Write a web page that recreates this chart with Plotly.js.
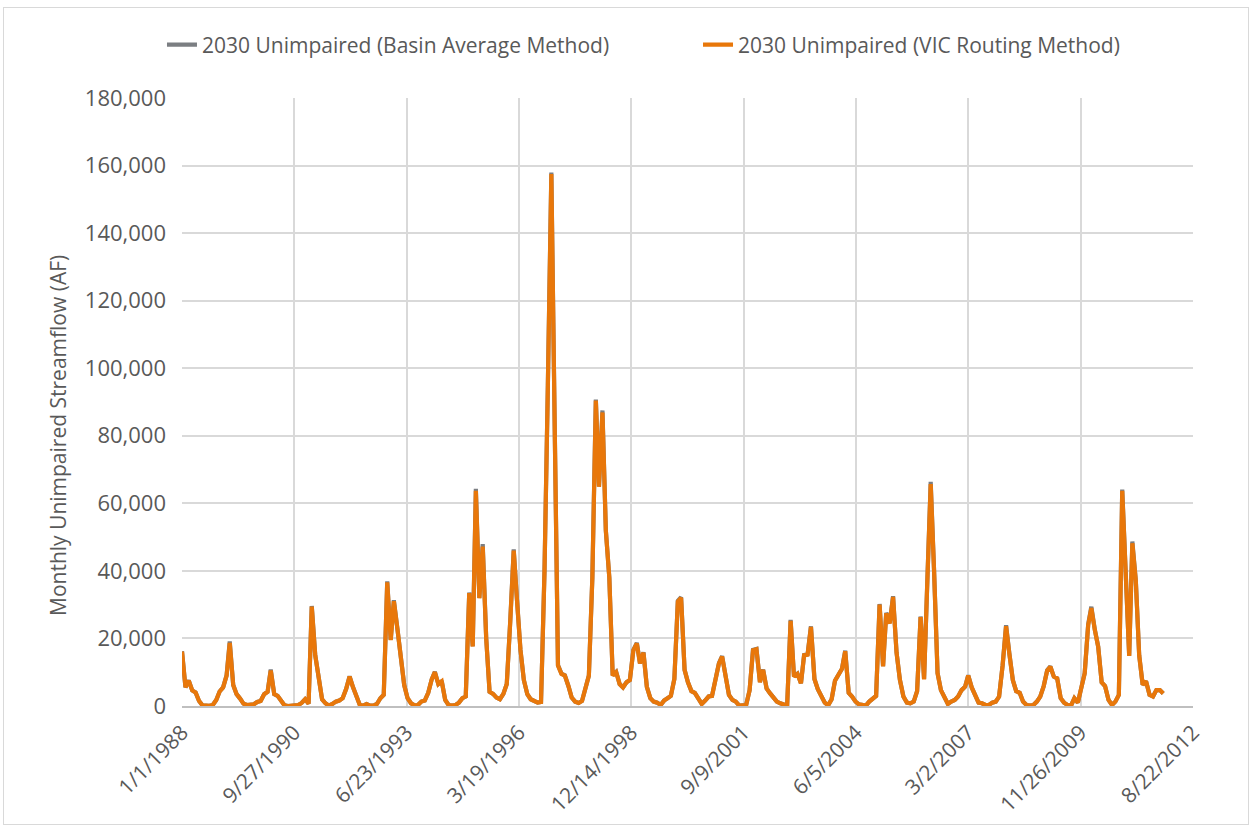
<!DOCTYPE html>
<html>
<head>
<meta charset="utf-8">
<script src="https://cdn.plot.ly/plotly-3.0.1.min.js"></script>
<style>
  html, body { margin: 0; padding: 0; background: #ffffff; }
  #wrap { position: relative; width: 1252px; height: 829px; }
  #chart { position: absolute; left: 0; top: 0; width: 1252px; height: 829px; }
  #frame { position: absolute; left: 3px; top: 7px; width: 1244px; height: 816px; border: 1px solid #d9d9d9; pointer-events: none; }
</style>
</head>
<body>
<div id="wrap"><div id="chart"></div><div id="frame"></div></div>
<script>
// ---- Data (monthly, Jan 1988 - Dec 2011), acre-feet ----
const startYear = 1988;
const endYear = 2011;

// 2030 Unimpaired (VIC Routing Method)
const vicRouting = [
  16100, 5500, 7500, 4600, 4000, 1500, 200, 50, 50, 300, 1800, 4300,        // 1988
  5500, 9000, 18700, 6200, 3500, 2200, 700, 300, 300, 500, 1200, 1500,      // 1989
  3500, 4200, 10500, 3500, 3000, 1500, 200, 0, 0, 50, 300, 900,             // 1990
  2000, 700, 29400, 15000, 9000, 2000, 800, 100, 600, 1300, 1600, 2300,     // 1991
  5000, 8700, 5700, 2600, 400, 100, 600, 100, 100, 600, 2300, 3300,         // 1992
  36600, 19500, 31000, 23000, 14600, 6200, 2300, 800, 200, 300, 1300, 1600, // 1993
  3900, 7900, 10000, 6500, 7300, 1800, 300, 100, 300, 1000, 2300, 2800,     // 1994
  33400, 17600, 63700, 31900, 47200, 20000, 4200, 3600, 2500, 2000, 3600, 6500, // 1995
  25000, 46000, 31400, 16600, 7700, 3500, 2000, 1500, 1000, 1200, 40000, 95000, // 1996
  157500, 80000, 12000, 9500, 9000, 6000, 2500, 1300, 900, 1500, 5000, 9000,  // 1997
  38000, 90400, 64900, 86900, 52000, 38000, 9000, 10000, 6500, 5500, 7000, 7700, // 1998
  16500, 18500, 12600, 15800, 5700, 2300, 1300, 1000, 300, 1600, 2300, 3000, // 1999
  8000, 30900, 32000, 10700, 7000, 4400, 3900, 2300, 600, 1600, 2800, 3000, // 2000
  7700, 12600, 14600, 8000, 3300, 1800, 1300, 100, 100, 300, 4700, 16500,   // 2001
  16800, 7000, 10700, 5200, 3800, 2300, 1300, 800, 300, 100, 25200, 8700,   // 2002
  9500, 6700, 15000, 15200, 23400, 8000, 5000, 2800, 1000, 200, 2000, 7500, // 2003
  9000, 11000, 16200, 3900, 2800, 1300, 500, 200, 100, 1300, 2000, 3000,    // 2004
  30000, 11700, 27400, 24400, 32300, 15800, 7700, 2800, 1000, 800, 1300, 4400, // 2005
  26300, 7900, 36000, 65700, 40000, 9700, 4700, 2300, 600, 1300, 1800, 2800, // 2006
  4700, 5700, 9000, 5500, 3300, 1000, 800, 300, 300, 1000, 1300, 2800,     // 2007
  12000, 23600, 15500, 7700, 4400, 3900, 1300, 300, 100, 300, 1300, 2800,   // 2008
  5900, 10500, 11600, 8700, 8200, 2300, 1000, 300, 100, 2300, 1000, 4700,   // 2009
  9700, 24000, 29000, 22500, 17500, 7000, 5900, 1800, 300, 1300, 3300, 63700, // 2010
  40000, 14800, 48200, 37000, 15000, 6300, 7300, 3300, 2800, 4700, 4700, 3700 // 2011
];

// 2030 Unimpaired (Basin Average Method)
const basinAverage = [
  16200, 5500, 7600, 4600, 4000, 1500, 200, 50, 50, 300, 1800, 4300,        // 1988
  5500, 9100, 19100, 6200, 3500, 2200, 700, 300, 300, 500, 1200, 1500,      // 1989
  3500, 4200, 10800, 3500, 3000, 1500, 200, 0, 0, 50, 300, 900,             // 1990
  2000, 700, 29600, 15100, 9000, 2000, 800, 100, 600, 1300, 1600, 2300,     // 1991
  5000, 8800, 5700, 2600, 400, 100, 600, 100, 100, 600, 2300, 3300,         // 1992
  36900, 19600, 31300, 23000, 14600, 6200, 2300, 800, 200, 300, 1300, 1600, // 1993
  3900, 7900, 10100, 6500, 7400, 1800, 300, 100, 300, 1000, 2300, 2800,     // 1994
  33600, 17700, 64300, 32000, 47900, 20100, 4200, 3600, 2500, 2000, 3600, 6500, // 1995
  25100, 46400, 31400, 16600, 7700, 3500, 2000, 1500, 1000, 1200, 40000, 95000, // 1996
  157900, 80000, 12100, 9600, 9100, 6000, 2500, 1300, 900, 1500, 5000, 9000,  // 1997
  38000, 90700, 65000, 87500, 52000, 38000, 9100, 10100, 6500, 5500, 7000, 7700, // 1998
  16600, 18700, 12600, 15900, 5700, 2300, 1300, 1000, 300, 1600, 2300, 3000, // 1999
  8000, 31100, 32200, 10700, 7000, 4400, 3900, 2300, 600, 1600, 2800, 3000, // 2000
  7700, 12700, 14800, 8000, 3300, 1800, 1300, 100, 100, 300, 4700, 16600,   // 2001
  16900, 7100, 10800, 5200, 3800, 2300, 1300, 800, 300, 100, 25500, 8800,   // 2002
  9600, 6700, 15100, 15300, 23600, 8000, 5000, 2800, 1000, 200, 2000, 7500, // 2003
  9000, 11000, 16400, 3900, 2800, 1300, 500, 200, 100, 1300, 2000, 3000,    // 2004
  30200, 11800, 27600, 24600, 32500, 15800, 7700, 2800, 1000, 800, 1300, 4400, // 2005
  26500, 8000, 36000, 66400, 40000, 9800, 4700, 2300, 600, 1300, 1800, 2800, // 2006
  4700, 5700, 9100, 5500, 3300, 1000, 800, 300, 300, 1000, 1300, 2800,     // 2007
  12000, 23900, 15600, 7700, 4400, 3900, 1300, 300, 100, 300, 1300, 2800,   // 2008
  5900, 10600, 11700, 8700, 8200, 2300, 1000, 300, 100, 2300, 1000, 4700,   // 2009
  9700, 24200, 29400, 22600, 17600, 7000, 5900, 1800, 300, 1300, 3300, 64100, // 2010
  40200, 14900, 48700, 37100, 15000, 6300, 7300, 3300, 2800, 4700, 4700, 3700 // 2011
];

// x-axis ticks (every 1000 days, as in the original)
const tickDates = ['1988-01-01','1990-09-27','1993-06-23','1996-03-19','1998-12-14',
                   '2001-09-09','2004-06-05','2007-03-02','2009-11-26','2012-08-22'];
const tickLabels = ['1/1/1988','9/27/1990','6/23/1993','3/19/1996','12/14/1998',
                    '9/9/2001','6/5/2004','3/2/2007','11/26/2009','8/22/2012'];

const seriesNames = ['2030 Unimpaired (Basin Average Method)', '2030 Unimpaired (VIC Routing Method)'];
const yTitle = 'Monthly Unimpaired Streamflow (AF)';

// monthly date categories
const months = [];
for (let y = startYear; y <= endYear; y++) {
  for (let m = 1; m <= 12; m++) {
    months.push(y + '-' + (m < 10 ? '0' + m : m) + '-01');
  }
}

const FONT = 'Open Sans, Noto Sans, sans-serif';
const TXT = '#595959';

const traces = [
  {
    x: months, y: basinAverage, type: 'scatter', mode: 'lines',
    name: seriesNames[0], legend: 'legend',
    line: { color: '#7b7e82', width: 4.2, shape: 'linear' },
    hoverinfo: 'x+y'
  },
  {
    x: months, y: vicRouting, type: 'scatter', mode: 'lines',
    name: seriesNames[1], legend: 'legend2',
    line: { color: '#e8770a', width: 4.2, shape: 'linear' },
    hoverinfo: 'x+y'
  }
];

const legendBase = {
  orientation: 'h',
  xanchor: 'left',
  y: 1.0872, yanchor: 'middle',
  font: { family: FONT, size: 21, color: TXT },
  bgcolor: 'rgba(0,0,0,0)',
  borderwidth: 0
};

const layout = {
  width: 1252, height: 829,
  margin: { l: 182, r: 59, t: 98, b: 123, pad: 0 },
  paper_bgcolor: 'rgba(0,0,0,0)',
  plot_bgcolor: '#ffffff',
  font: { family: FONT, size: 21, color: TXT },
  showlegend: true,
  legend: Object.assign({}, legendBase, { x: -0.0198 }),
  legend2: Object.assign({}, legendBase, { x: 0.5104 }),
  xaxis: {
    type: 'date',
    range: ['1988-01-01', '2012-08-22'],
    tickmode: 'array',
    tickvals: tickDates,
    ticktext: tickLabels,
    tickangle: -45,
    tickfont: { family: FONT, size: 21, color: TXT },
    showgrid: true, gridcolor: '#d9d9d9', gridwidth: 2,
    showline: true, linecolor: '#bfbfbf', linewidth: 2,
    zeroline: false,
    ticks: '',
    ticklabelstandoff: 4,
    fixedrange: true
  },
  yaxis: {
    range: [0, 180000],
    tickmode: 'linear', tick0: 0, dtick: 20000,
    tickformat: ',d',
    tickfont: { family: FONT, size: 22, color: TXT },
    showgrid: true, gridcolor: '#d9d9d9', gridwidth: 2,
    showline: false, zeroline: false,
    ticks: '',
    ticklabelstandoff: 15,
    automargin: false,
    fixedrange: true
  },
  annotations: [
    {
      text: yTitle, xref: 'paper', yref: 'paper',
      x: -0.1227, y: 0.4457, xanchor: 'center', yanchor: 'middle',
      textangle: -90, showarrow: false,
      font: { family: FONT, size: 21, color: TXT }
    }
  ]
};

Plotly.newPlot('chart', traces, layout, { displayModeBar: false, staticPlot: true });
</script>
</body>
</html>
